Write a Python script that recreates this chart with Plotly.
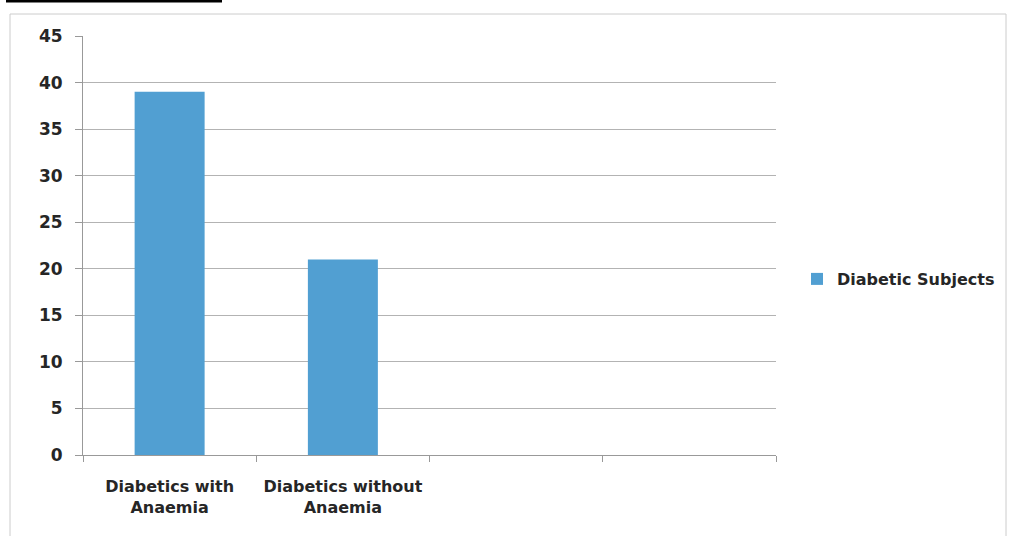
import plotly.graph_objects as go

categories = ["Diabetics with<br>Anaemia", "Diabetics without<br>Anaemia"]
empty_slots = [" ", "  "]
values = [39, 21]
series_name = "Diabetic Subjects"

W, H = 1012, 536
L, R, T, B = 83, 776, 36, 455
pw, ph = R - L, B - T

def px(x):
    return (x - L) / pw

def py(y):
    return (B - y) / ph

FAM = "DejaVu Sans, sans-serif"
TXT = "#262626"

fig = go.Figure()
fig.add_trace(go.Bar(
    x=categories, y=values, name=series_name,
    marker=dict(color="#519FD2", line=dict(width=0)),
    showlegend=True,
))

fig.update_layout(
    width=W, height=H,
    margin=dict(l=L, r=W - R, t=T, b=H - B, pad=0),
    paper_bgcolor="white", plot_bgcolor="white",
    bargap=0.596,
    font=dict(family=FAM, size=16, color=TXT),
    showlegend=True,
    legend=dict(x=px(797), y=py(279), xanchor="left", yanchor="middle",
                font=dict(family=FAM, size=16, color=TXT, weight="bold"),
                bgcolor="rgba(0,0,0,0)", itemwidth=30),
    xaxis=dict(
        type="category",
        categoryorder="array",
        categoryarray=categories + empty_slots,
        range=[-0.5, 3.5],
        tickson="boundaries",
        ticks="outside", ticklen=6, tickcolor="#999999",
        showline=True, linecolor="#999999", linewidth=1,
        showgrid=False,
        ticklabelstandoff=17,
        tickfont=dict(family=FAM, size=16, color=TXT, weight="bold"),
    ),
    yaxis=dict(
        range=[0, 45], dtick=5, tick0=0,
        ticks="outside", ticklen=7, tickcolor="#999999",
        showline=True, linecolor="#999999", linewidth=1,
        showgrid=True, gridcolor="#b3b3b3", gridwidth=1,
        zeroline=False,
        ticklabelstandoff=9,
        tickfont=dict(family=FAM, size=17, color=TXT, weight="bold"),
    ),
    shapes=[
        dict(type="rect", xref="paper", yref="paper",
             x0=px(10), x1=px(1006), y0=py(545), y1=py(14),
             line=dict(color="#cccccc", width=1), fillcolor="rgba(0,0,0,0)", layer="below"),
        dict(type="line", xref="paper", yref="paper",
             x0=px(6), x1=px(222), y0=py(1), y1=py(1),
             line=dict(color="black", width=3)),
    ],
)

fig.write_html("out.html")
